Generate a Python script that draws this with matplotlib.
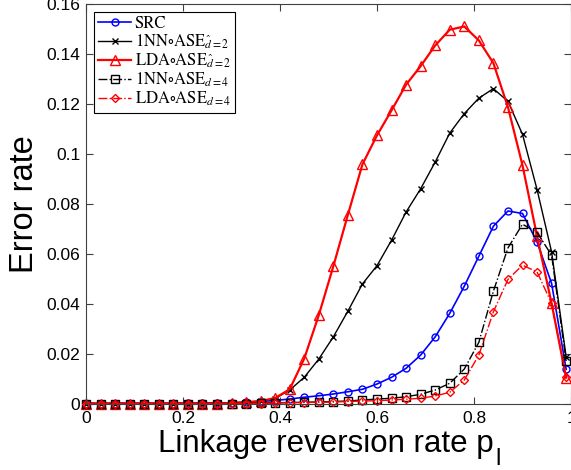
import matplotlib
matplotlib.use("Agg")
import matplotlib.pyplot as plt

x_vals = [0.00, 0.03, 0.06, 0.09, 0.12, 0.15, 0.18, 0.21, 0.24, 0.27, 0.30, 0.33,
          0.36, 0.39, 0.42, 0.45, 0.48, 0.51, 0.54, 0.57, 0.60, 0.63, 0.66, 0.69,
          0.72, 0.75, 0.78, 0.81, 0.84, 0.87, 0.90, 0.93, 0.96, 0.99]

src = [0, 0, 0, 0, 0, 0, 0, 0.0001, 0.0001, 0.0002, 0.0003, 0.0005,
       0.0008, 0.0012, 0.0018, 0.0025, 0.0031, 0.0038, 0.0047, 0.0057, 0.0078, 0.0105, 0.0141, 0.0194,
       0.0267, 0.0361, 0.0470, 0.0590, 0.0710, 0.0771, 0.0761, 0.0647, 0.0481, 0.0137]

nn_dhat2 = [0, 0, 0, 0, 0, 0, 0, 0, 0, 0, 0.0002, 0.0005,
            0.0010, 0.0020, 0.0054, 0.0105, 0.0178, 0.0267, 0.0370, 0.0479, 0.0552, 0.0654, 0.0767, 0.0860,
            0.0967, 0.1083, 0.1161, 0.1223, 0.1261, 0.1210, 0.1078, 0.0857, 0.0607, 0.0187]

lda_dhat2 = [0, 0, 0, 0, 0, 0, 0, 0, 0, 0, 0.0002, 0.0005,
             0.0010, 0.0022, 0.0057, 0.0180, 0.0354, 0.0550, 0.0756, 0.0958, 0.1074, 0.1174, 0.1277, 0.1351,
             0.1434, 0.1497, 0.1510, 0.1454, 0.1363, 0.1187, 0.0954, 0.0670, 0.0401, 0.0103]

nn_d4 = [0, 0, 0, 0, 0, 0, 0, 0, 0, 0, 0, 0,
         0.0002, 0.0003, 0.0004, 0.0005, 0.0006, 0.0008, 0.0010, 0.0014, 0.0018, 0.0021, 0.0027, 0.0037,
         0.0054, 0.0081, 0.0138, 0.0245, 0.0450, 0.0623, 0.0718, 0.0685, 0.0594, 0.0170]

lda_d4 = [0, 0, 0, 0, 0, 0, 0, 0, 0, 0, 0, 0,
          0, 0.0002, 0.0003, 0.0004, 0.0005, 0.0006, 0.0008, 0.0010, 0.0011, 0.0014, 0.0017, 0.0021,
          0.0030, 0.0045, 0.0094, 0.0194, 0.0367, 0.0497, 0.0554, 0.0527, 0.0401, 0.0105]

labels = ["SRC",
          r"1NN$\circ$ASE$_{\hat{d}=2}$",
          r"LDA$\circ$ASE$_{\hat{d}=2}$",
          r"1NN$\circ$ASE$_{d=4}$",
          r"LDA$\circ$ASE$_{d=4}$"]

x_ticks = [0, 0.2, 0.4, 0.6, 0.8, 1.0]
x_ticklabels = ["0", "0.2", "0.4", "0.6", "0.8", "1"]
y_ticks = [0, 0.02, 0.04, 0.06, 0.08, 0.10, 0.12, 0.14, 0.16]
y_ticklabels = ["0", "0.02", "0.04", "0.06", "0.08", "0.1", "0.12", "0.14", "0.16"]

plt.rcParams['font.family'] = ['Liberation Sans', 'DejaVu Sans']
plt.rcParams['mathtext.fontset'] = 'stix'

fig = plt.figure(figsize=(5.71, 4.70), dpi=100)
ax = fig.add_axes([86/571, 1-403.5/470, 1-86/571, 399.5/470])

ax.plot(x_vals, src, color='#0000ff', lw=1.2, marker='o', ms=5, mfc='none', mew=1.0,
        label=labels[0], clip_on=False)
ax.plot(x_vals, nn_dhat2, color='black', lw=1.0, marker='x', ms=5, mew=1.0,
        label=labels[1], clip_on=False)
ax.plot(x_vals, lda_dhat2, color='#ff0000', lw=1.6, marker='^', ms=6.5, mfc='none', mew=1.0,
        label=labels[2], clip_on=False)
ax.plot(x_vals, nn_d4, color='black', lw=1.0, ls='-.', marker='s', ms=5.5, mfc='none', mew=1.0,
        label=labels[3], clip_on=False)
ax.plot(x_vals, lda_d4, color='#ff0000', lw=1.0, ls='-.', marker='D', ms=4.5, mfc='none', mew=1.0,
        label=labels[4], clip_on=False)

ax.set_xlim(0, 1)
ax.set_ylim(0, 0.16)
ax.set_xticks(x_ticks)
ax.set_xticklabels(x_ticklabels)
ax.set_yticks(y_ticks)
ax.set_yticklabels(y_ticklabels)
ax.tick_params(direction='in', top=True, right=True, labelsize=12.5, length=5,
               color='#404040', width=0.8)
ax.tick_params(axis='x', pad=5.5)
ax.tick_params(axis='y', pad=4)
for s in ax.spines.values():
    s.set_color('#404040')
    s.set_linewidth(0.8)

# x label: main text plus a lowered subscript "l" as in the reference
fig.text(326/571, 1 - 452/470, "Linkage reversion rate p", fontsize=22.5, ha='center',
         va='baseline')
fig.text(498/571, 1 - 465/470, "l", fontsize=17, ha='center', va='baseline')
ax.set_ylabel("Error rate", fontsize=23.5, labelpad=5)

leg = ax.legend(loc='upper left', bbox_to_anchor=(0.016, 0.98), prop={'family': 'STIXGeneral', 'size': 12},
                fancybox=False, edgecolor='black', framealpha=1, handlelength=2.0,
                labelspacing=0.04, borderpad=0.25, handletextpad=0.2, borderaxespad=0)
leg.get_frame().set_linewidth(0.8)

fig.savefig("out.png", dpi=100)
